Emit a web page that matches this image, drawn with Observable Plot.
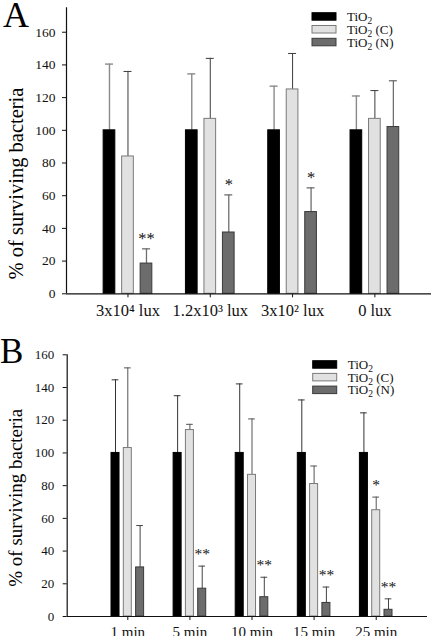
<!DOCTYPE html>
<html>
<head>
<meta charset="utf-8">
<script src="https://cdn.jsdelivr.net/npm/d3@7"></script>
<script src="https://cdn.jsdelivr.net/npm/@observablehq/plot@0.6"></script>
<style>
  html, body { margin: 0; padding: 0; background: #fff; }
  #chart { width: 432px; }
  #chart svg { display: block; font-family: "Liberation Serif", "DejaVu Serif", serif; }
  #pA g[aria-label="x-axis"] text, #pA g[aria-label="x-axis tick label"] text { font-size: 16.5px; }
  #pB g[aria-label="x-axis"] text, #pB g[aria-label="x-axis tick label"] text { font-size: 15px; }
  #pA g[aria-label="y-axis"] text, #pA g[aria-label="y-axis tick label"] text { font-size: 13.5px; }
  #pB g[aria-label="y-axis"] text, #pB g[aria-label="y-axis tick label"] text { font-size: 13px; }
</style>
</head>
<body>
<div id="chart"></div>
<script>
// ---------- data ----------
const seriesNames = ["TiO2", "TiO2 (C)", "TiO2 (N)"];

// Panel A: light intensity
const groupsA = ["3x10\u2074 lux", "1.2x10\u00b3 lux", "3x10\u00b2 lux", "0 lux"];
const meanA_TiO2 = [100, 100, 100, 100];
const meanA_C    = [84, 107, 125, 107];
const meanA_N    = [18.5, 37.5, 50, 102];
const errTopA_TiO2 = [140.5, 134.5, 127, 121];
const errTopA_C    = [136, 144, 147, 124.3];
const errTopA_N    = [27.5, 60.5, 64.8, 130.3];
const starsA_TiO2 = ["", "", "", ""];
const starsA_C    = ["", "", "", ""];
const starsA_N    = ["**", "*", "*", ""];

// Panel B: exposure time
const groupsB = ["1 min", "5 min", "10 min", "15 min", "25 min"];
const meanB_TiO2 = [100, 100, 100, 100, 100];
const meanB_C    = [103, 114, 86.6, 81, 65];
const meanB_N    = [30, 17, 11.8, 8.3, 4.1];
const errTopB_TiO2 = [144.7, 135, 142.2, 132.4, 124.5];
const errTopB_C    = [152, 117.5, 120.8, 92, 73];
const errTopB_N    = [55.6, 30.8, 24, 18, 10.8];
const starsB_TiO2 = ["", "", "", "", ""];
const starsB_C    = ["", "", "", "", "*"];
const starsB_N    = ["", "**", "**", "**", "**"];

const yTicks = [0, 20, 40, 60, 80, 100, 120, 140, 160];

// ---------- styles ----------
const fills   = ["#000000", "#e1e1e1", "#6c6c6c"];
const strokes = ["#000000", "#7a7a7a", "#3a3a3a"];

function buildRows(groups, means, errs, stars, spacing) {
  const rows = [];
  groups.forEach((g, i) => {
    for (let k = 0; k < 3; k++) {
      rows.push({gi: i, k, x: i + (k - 1) * spacing, mean: means[k][i], err: errs[k][i], star: stars[k][i]});
    }
  });
  return rows;
}

function panel(cfg) {
  const rows = buildRows(cfg.groups, cfg.means, cfg.errs, cfg.stars, cfg.spacing);
  const marks = [];
  for (let k = 0; k < 3; k++) {
    const r = rows.filter(d => d.k === k);
    marks.push(Plot.ruleX(r, {x: "x", y1: "mean", y2: "err", stroke: cfg.errColors[k], strokeWidth: cfg.errWidths[k]}));
    marks.push(Plot.ruleY(r, {y: "err", x1: d => d.x - cfg.cap / 2, x2: d => d.x + cfg.cap / 2, stroke: cfg.errColors[k], strokeWidth: cfg.errWidths[k]}));
    marks.push(Plot.rect(r, {x1: d => d.x - cfg.bw / 2, x2: d => d.x + cfg.bw / 2, y1: () => 0, y2: "mean",
      fill: fills[k], stroke: strokes[k], strokeWidth: 1}));
  }
  marks.push(Plot.text(rows.filter(d => d.star), {x: "x", y: "err", text: "star", dy: cfg.starDy,
    fontSize: cfg.starSize, fill: "#111", fontFamily: "Liberation Serif"}));
  marks.push(Plot.ruleY([0], {stroke: "#111", strokeWidth: 1.2}));
  marks.push(Plot.ruleX([cfg.xDomain[0]], {stroke: "#111", strokeWidth: 1.2}));

  const svg = Plot.plot({
    width: 432,
    height: cfg.height,
    marginLeft: cfg.marginLeft,
    marginRight: cfg.marginRight,
    marginTop: cfg.marginTop,
    marginBottom: cfg.marginBottom,
    style: {fontFamily: "Liberation Serif", color: "#111", background: "#fff", overflow: "visible"},
    x: {type: "linear", domain: cfg.xDomain, ticks: d3.range(cfg.groups.length),
        tickFormat: i => cfg.groups[i], tickSize: 4, tickPadding: 6, label: null},
    y: {domain: cfg.yDomain, ticks: yTicks, tickSize: 4, tickPadding: cfg.yPad, label: null},
    marks
  });
  svg.id = cfg.id;

  const s = d3.select(svg);
  // panel letter
  s.append("text").attr("x", cfg.letterX).attr("y", cfg.letterY).attr("text-anchor", "start")
    .attr("font-size", cfg.letterSize).attr("font-family", "Liberation Serif").attr("fill", "#000")
    .text(cfg.letter);
  // y axis title
  s.append("text").attr("transform", `translate(${cfg.ylabX},${cfg.ylabY}) rotate(-90)`)
    .attr("text-anchor", "middle").attr("font-size", cfg.ylabSize)
    .attr("font-family", "Liberation Serif").attr("fill", "#000")
    .text("% of surviving bacteria");
  // legend
  seriesNames.forEach((name, k) => {
    const top = cfg.legTop + k * cfg.legStep;
    s.append("rect").attr("x", cfg.legX).attr("y", top).attr("width", 24).attr("height", 7.5)
      .attr("fill", fills[k]).attr("stroke", strokes[k]).attr("stroke-width", 1);
    const t = s.append("text").attr("x", cfg.legX + 35).attr("y", top + 8.3).attr("text-anchor", "start")
      .attr("font-size", 13).attr("font-family", "Liberation Serif").attr("fill", "#111");
    t.append("tspan").text("TiO");
    t.append("tspan").attr("font-size", 9.5).attr("dy", 3).text("2");
    const rest = name.slice(4);
    if (rest) t.append("tspan").attr("dy", -3).text(rest);
  });
  return svg;
}

const root = document.getElementById("chart");

root.appendChild(panel({
  id: "pA", letter: "A", letterX: 3, letterY: 26.7, letterSize: 36,
  groups: groupsA,
  means: [meanA_TiO2, meanA_C, meanA_N],
  errs: [errTopA_TiO2, errTopA_C, errTopA_N],
  stars: [starsA_TiO2, starsA_C, starsA_N],
  height: 320, marginLeft: 66, marginRight: 1, marginTop: 7.2, marginBottom: 26.7,
  xDomain: [-0.747, 3.688], yDomain: [0, 175], yPad: 7,
  spacing: 0.2248, bw: 0.142, cap: 0.097,
  errColors: ["#8a8a8a", "#3c3c3c", "#6e6e6e"], errWidths: [1.4, 1, 1.3],
  starDy: -10, starSize: 16.5,
  ylabX: 23, ylabY: 183.5, ylabSize: 20.5,
  legX: 312, legTop: 12.7, legStep: 12.8
}));

root.appendChild(panel({
  id: "pB", letter: "B", letterX: 0, letterY: 43.3, letterSize: 35,
  groups: groupsB,
  means: [meanB_TiO2, meanB_C, meanB_N],
  errs: [errTopB_TiO2, errTopB_C, errTopB_N],
  stars: [starsB_TiO2, starsB_C, starsB_N],
  height: 316, marginLeft: 66.7, marginRight: 5, marginTop: 34.3, marginBottom: 20,
  xDomain: [-0.976, 4.826], yDomain: [0, 160], yPad: 9,
  spacing: 0.198, bw: 0.129, cap: 0.108,
  errColors: ["#333333", "#555555", "#444444"], errWidths: [1, 1, 1],
  starDy: -12, starSize: 15.5,
  ylabX: 21.5, ylabY: 177.8, ylabSize: 19,
  legX: 312.7, legTop: 40.7, legStep: 12.7
}));
</script>
</body>
</html>
